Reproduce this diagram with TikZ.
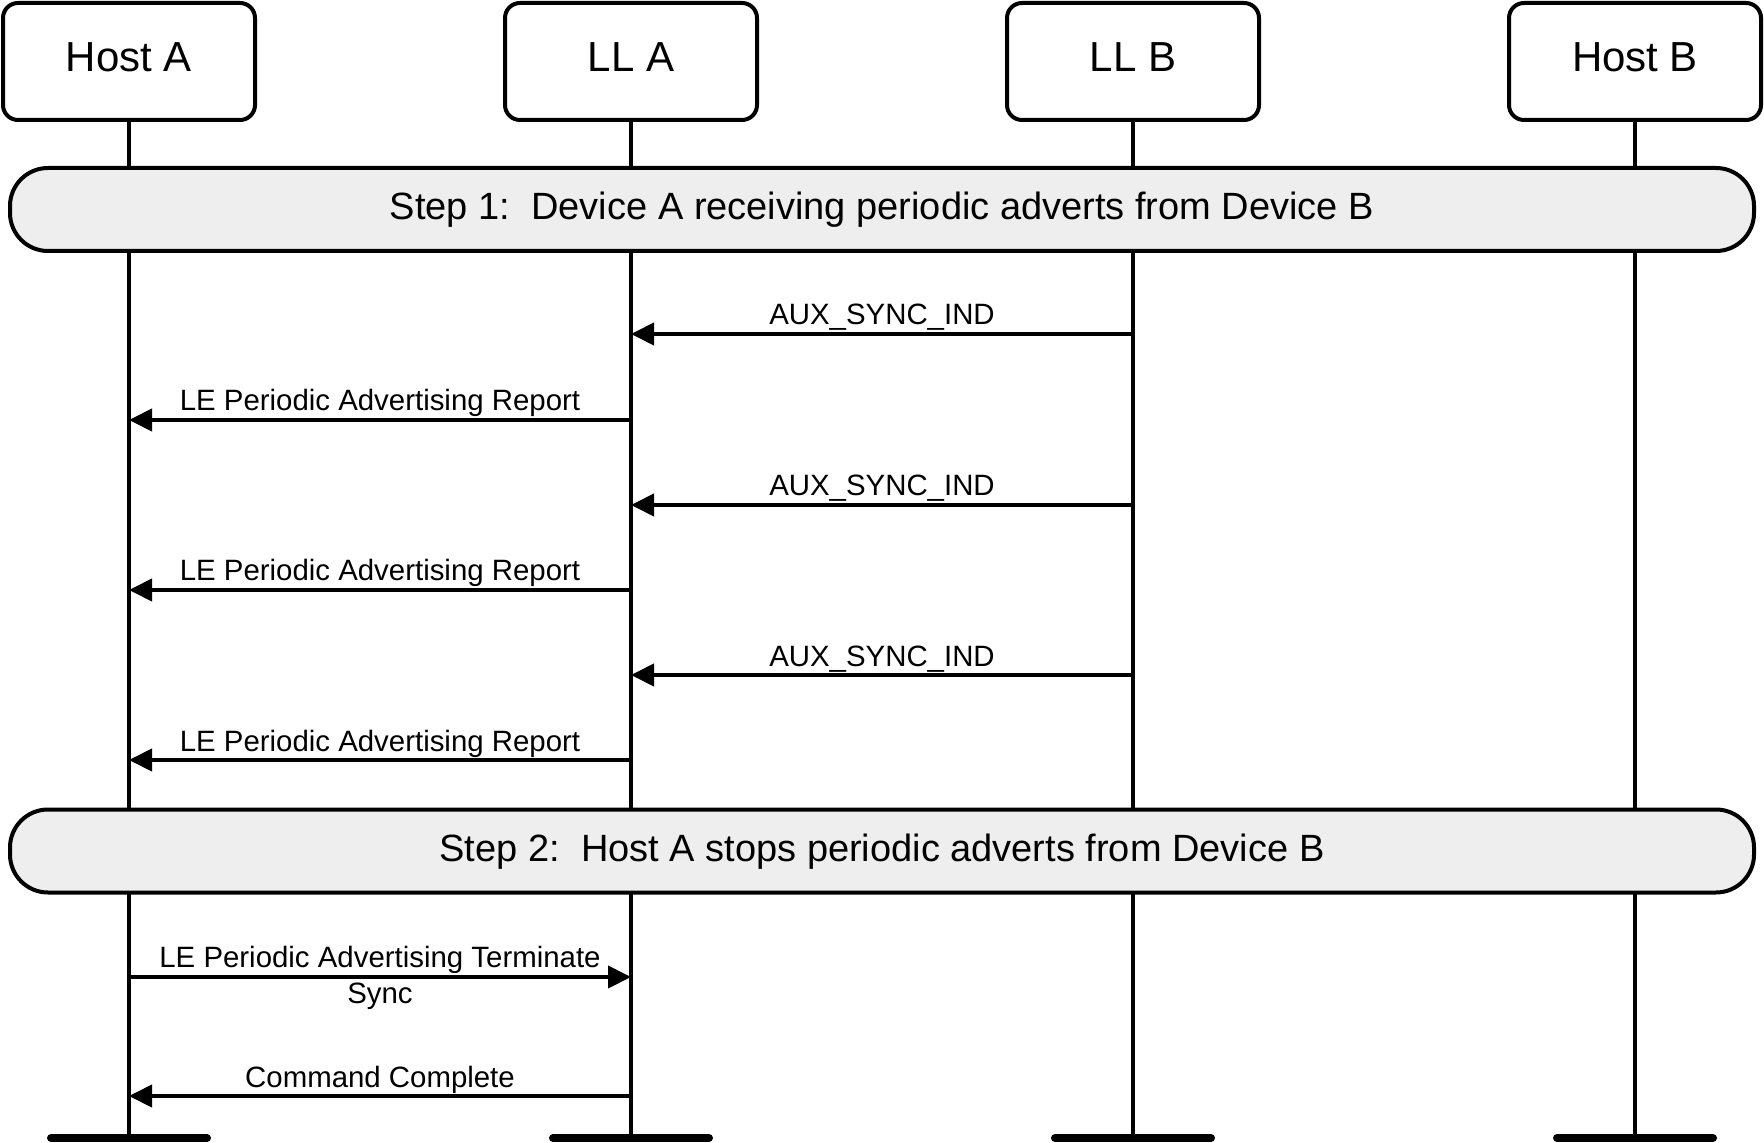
\documentclass[tikz,border=0pt]{standalone}
\usepackage{fontspec}
\setmainfont{Liberation Sans}
\usetikzlibrary{arrows.meta}
\definecolor{stepgray}{HTML}{EEEEEE}
\tikzset{
	entity/.style={draw,fill=white,line width=2pt,rounded corners=7.5pt,inner sep=0,
		minimum width=126pt,minimum height=58.5pt,
		font=\fontsize{21}{25}\selectfont,text height=15pt,text depth=4.5pt},
	stepbar/.style={draw,fill=stepgray,line width=2pt,rounded corners=19pt,inner sep=0,
		minimum width=872pt,minimum height=41.5pt,
		font=\fontsize{19}{23}\selectfont,text height=14pt,text depth=3.5pt},
	lifeline/.style={line width=2pt},
	msg/.style={line width=2pt,-{Triangle[length=11.5pt,width=11pt]}},
	lbl/.style={font=\fontsize{14.7}{17}\selectfont,anchor=base,inner sep=0},
	endbar/.style={line width=4pt,line cap=round}
}
\begin{document}
\begin{tikzpicture}[x=0.5pt,y=-0.5pt]
\useasboundingbox (0,0) rectangle (1764,1143);
\node[entity] (hostA) at (129,61.5) {Host A};
\node[entity] (llA) at (631,61.5) {LL A};
\node[entity] (llB) at (1133,61.5) {LL B};
\node[entity] (hostB) at (1635,61.5) {Host B};
\coordinate (hostAend) at (129,1138);
\coordinate (llAend) at (631,1138);
\coordinate (llBend) at (1133,1138);
\coordinate (hostBend) at (1635,1138);
\draw[lifeline]
	(hostA.south)--(hostAend)
	(llA.south)--(llAend)
	(llB.south)--(llBend)
	(hostB.south)--(hostBend);
\node[stepbar] (step1) at (882,209.5) {Step 1:\ \ Device A receiving periodic adverts from Device B};
\node[stepbar] (step2) at (882,851) {Step 2:\ \ Host A stops periodic adverts from Device B};
\draw[msg] (llB |- 0,334)--node[lbl,yshift=4.5pt] (sync1) {AUX\_SYNC\_IND} (llA |- 0,334);
\draw[msg] (llA |- 0,420)--node[lbl,yshift=4.5pt] (report1) {LE Periodic Advertising Report} (hostA |- 0,420);
\draw[msg] (llB |- 0,505)--node[lbl,yshift=4.5pt] (sync2) {AUX\_SYNC\_IND} (llA |- 0,505);
\draw[msg] (llA |- 0,590)--node[lbl,yshift=4.5pt] (report2) {LE Periodic Advertising Report} (hostA |- 0,590);
\draw[msg] (llB |- 0,675)--node[lbl,yshift=4.5pt] (sync3) {AUX\_SYNC\_IND} (llA |- 0,675);
\draw[msg] (llA |- 0,760)--node[lbl,yshift=4.5pt] (report3) {LE Periodic Advertising Report} (hostA |- 0,760);
\draw[msg] (hostA |- 0,977)--
	node[lbl,yshift=5pt] (terminate) {LE Periodic Advertising Terminate}
	node[lbl,yshift=-13pt] (terminatesync) {Sync} (llA |- 0,977);
\draw[msg] (llA |- 0,1096)--node[lbl,yshift=4.5pt] (complete) {Command Complete} (hostA |- 0,1096);
\draw[endbar]
	([xshift=-39pt]hostAend)--([xshift=39pt]hostAend)
	([xshift=-39pt]llAend)--([xshift=39pt]llAend)
	([xshift=-39pt]llBend)--([xshift=39pt]llBend)
	([xshift=-39pt]hostBend)--([xshift=39pt]hostBend);
\end{tikzpicture}
\end{document}
